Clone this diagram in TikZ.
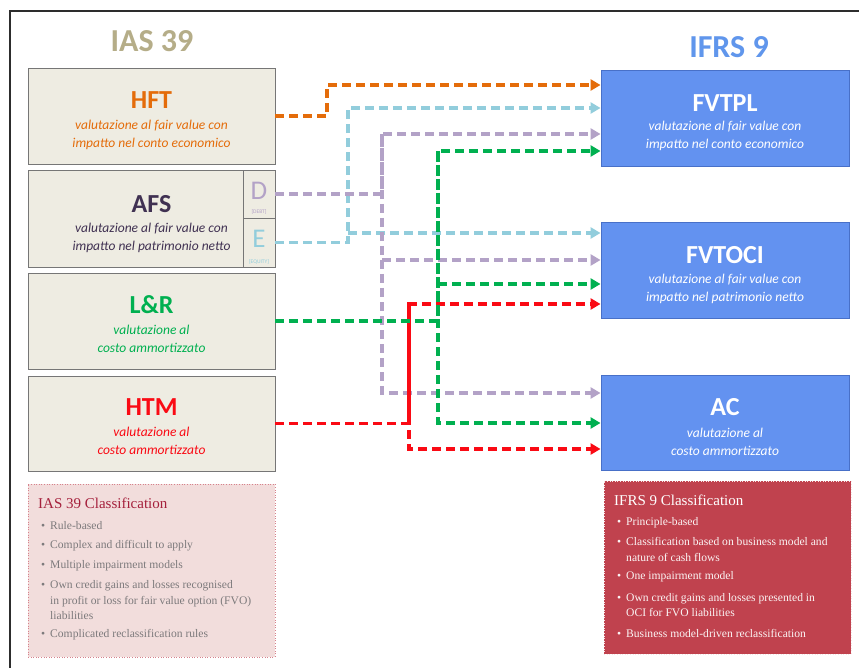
\documentclass[tikz,border=0pt]{standalone}
\usepackage{fontspec}
\setmainfont{Carlito}
\newfontfamily\clsfont{Liberation Serif}
\usetikzlibrary{arrows.meta}

\definecolor{iasgray}{RGB}{181,173,136}
\definecolor{ifrsblue}{RGB}{96,150,236}
\definecolor{boxblue}{RGB}{99,146,240}
\definecolor{boxblueline}{RGB}{72,112,200}
\definecolor{beige}{RGB}{238,236,226}
\definecolor{beigeline}{RGB}{118,118,118}
\definecolor{orangeC}{RGB}{228,108,10}
\definecolor{lblueC}{RGB}{146,205,220}
\definecolor{lilacC}{RGB}{179,162,199}
\definecolor{afsC}{RGB}{64,49,82}
\definecolor{greenC}{RGB}{0,176,80}
\definecolor{redC}{RGB}{250,10,20}
\definecolor{pinkfill}{RGB}{242,221,220}
\definecolor{pinkdots}{RGB}{214,130,140}
\definecolor{clstitle}{RGB}{165,32,60}
\definecolor{clstext}{RGB}{125,122,124}
\definecolor{redfill}{RGB}{192,66,78}
\definecolor{framecol}{RGB}{45,45,45}

\begin{document}
\begin{tikzpicture}[x=1pt,y=-1pt,
  leftbox/.style={draw=beigeline, fill=beige, line width=0.9pt, minimum width=247pt, inner sep=0pt},
  rightbox/.style={draw=boxblueline, fill=boxblue, line width=0.9pt, minimum width=248pt, inner sep=0pt},
  heading/.style={font=\fontsize{32}{34}\selectfont\bfseries, inner sep=0pt},
  boxname/.style={font=\fontsize{26}{28}\selectfont\bfseries, inner sep=0pt},
  boxnote/.style={font=\fontsize{13.5}{18}\selectfont\itshape, align=center, inner sep=0pt},
  cellletter/.style={inner sep=0pt, font=\fontsize{27}{28}\selectfont},
  celltag/.style={inner sep=0pt, font=\fontsize{5.5}{6}\selectfont},
  link/.style={line width=3.2pt, dash pattern=on 9pt off 5pt, -{Triangle[length=10pt,width=11pt]}},
  clsbox/.style={line width=1pt, dash pattern=on 1pt off 1.6pt, minimum width=247pt, minimum height=173pt, inner sep=0pt},
  clshead/.style={anchor=west, font=\clsfont\fontsize{15}{16}\selectfont, inner sep=0pt},
  bulletline/.style={anchor=west, font=\clsfont\fontsize{11.6}{15.5}\selectfont, align=left, inner sep=0pt}
]
\useasboundingbox (0,0) rectangle (859,668);
\fill[white] (0,0) rectangle (859,668);
\draw[framecol, line width=1.3pt] (10,668) -- (10,11) -- (859,11);

% column headings
\node[heading, text=iasgray] (iashead) at (152,41) {IAS 39};
\node[heading, text=ifrsblue] (ifrshead) at (729,47) {IFRS 9};

% IAS 39 categories
\node[leftbox, minimum height=96pt] (hft) at (151.5,116) {};
\node[boxname, text=orangeC] (hftname) at (151.5,100) {HFT};
\node[boxnote, text=orangeC] (hftnote) at (151.5,135) {valutazione al fair value con\\impatto nel conto economico};

\node[leftbox, minimum height=97pt] (afs) at (151.5,218.5) {};
\node[boxname, text=afsC] (afsname) at (151.5,204) {AFS};
\node[boxnote, text=afsC] (afsnote) at (151.5,238) {valutazione al fair value con\\impatto nel patrimonio netto};
\node[leftbox, minimum width=32pt, minimum height=48pt] (dcell) at (259,194) {};
\node[cellletter, text=lilacC] (dletter) at (259,191) {D};
\node[celltag, text=lilacC] (dtag) at (259,212) {[DEBT]};
\node[leftbox, minimum width=32pt, minimum height=49pt] (ecell) at (259,242.5) {};
\node[cellletter, text=lblueC] (eletter) at (259,239) {E};
\node[celltag, text=lblueC] (etag) at (259,262) {[EQUITY]};

\node[leftbox, minimum height=96pt] (lr) at (151.5,321) {};
\node[boxname, text=greenC] (lrname) at (151.5,305) {L\&R};
\node[boxnote, text=greenC] (lrnote) at (151.5,339) {valutazione al\\costo ammortizzato};

\node[leftbox, minimum height=95pt] (htm) at (151.5,423.5) {};
\node[boxname, text=redC] (htmname) at (151.5,407) {HTM};
\node[boxnote, text=redC] (htmnote) at (151.5,441) {valutazione al\\costo ammortizzato};

% IFRS 9 categories
\node[rightbox, minimum height=96pt] (fvtpl) at (725,118) {};
\node[boxname, text=white] (fvtplname) at (725,103) {FVTPL};
\node[boxnote, text=white] (fvtplnote) at (725,136) {valutazione al fair value con\\impatto nel conto economico};

\node[rightbox, minimum height=96pt] (fvtoci) at (725,270) {};
\node[boxname, text=white] (fvtociname) at (725,255) {FVTOCI};
\node[boxnote, text=white] (fvtocinote) at (725,289) {valutazione al fair value con\\impatto nel patrimonio netto};

\node[rightbox, minimum height=95pt] (ac) at (725,422.5) {};
\node[boxname, text=white] (acname) at (725,407) {AC};
\node[boxnote, text=white] (acnote) at (725,442) {valutazione al\\costo ammortizzato};

% bend points of the reclassification routes
\coordinate (orangeA) at (327,85);
\coordinate (blueA) at (348,108);
\coordinate (blueB) at (348,233);
\coordinate (lilacA) at (382,134);
\coordinate (lilacB) at (382,260);
\coordinate (lilacC) at (382,393);
\coordinate (greenA) at (438,151);
\coordinate (greenB) at (438,284);
\coordinate (greenCc) at (438,423);
\coordinate (redA) at (409,304);
\coordinate (redB) at (409,449);

% HFT
\draw[link, orangeC] (hft.east) -| (orangeA) -- (orangeA -| fvtpl.west);
% AFS equity
\draw[link, lblueC] (ecell.east) -| (blueA) -- (blueA -| fvtpl.west);
\draw[link, lblueC] (blueB) -- (blueB -| fvtoci.west);
% AFS debt
\draw[link, lilacC] (dcell.east) -| (lilacA) -- (lilacA -| fvtpl.west);
\draw[link, lilacC] (lilacA) |- (lilacC -| ac.west);
\draw[link, lilacC] (lilacB) -- (lilacB -| fvtoci.west);
% HTM
\draw[link, redC] (htm.east) -| (redA) -- (redA -| fvtoci.west);
\draw[link, redC] (redA) |- (redB -| ac.west);
% L&R
\draw[link, greenC] (lr.east) -| (greenA) -- (greenA -| fvtpl.west);
\draw[link, greenC] (greenA) |- (greenCc -| ac.west);
\draw[link, greenC] (greenB) -- (greenB -| fvtoci.west);

% classification summaries
\node[clsbox, draw=pinkdots, fill=pinkfill] (iasinfo) at (151.5,570.5) {};
\node[clshead, text=clstitle] (iasinfohead) at (38,503) {IAS 39 Classification};
\begin{scope}[every node/.append style={text=clstext}]
\node[bulletline] (ias1) at (50,526) {\llap{\textbullet\hspace{5pt}}Rule-based};
\node[bulletline] (ias2) at (50,546) {\llap{\textbullet\hspace{5pt}}Complex and difficult to apply};
\node[bulletline] (ias3) at (50,566) {\llap{\textbullet\hspace{5pt}}Multiple impairment models};
\node[bulletline] (ias4) at (50,600.5) {\llap{\textbullet\hspace{5pt}}Own credit gains and losses recognised\\in profit or loss for fair value option (FVO)\\liabilities};
\node[bulletline] (ias5) at (50,635) {\llap{\textbullet\hspace{5pt}}Complicated reclassification rules};
\end{scope}

\node[clsbox, draw=white!85!redfill, fill=redfill] (ifrsinfo) at (727.5,567.5) {};
\node[clshead, text=white] (ifrsinfohead) at (614,500) {IFRS 9 Classification};
\begin{scope}[every node/.append style={text=white!94!redfill}]
\node[bulletline] (ifrs1) at (626,523) {\llap{\textbullet\hspace{5pt}}Principle-based};
\node[bulletline] (ifrs2) at (626,549.5) {\llap{\textbullet\hspace{5pt}}Classification based on business model and\\nature of cash flows};
\node[bulletline] (ifrs3) at (626,577) {\llap{\textbullet\hspace{5pt}}One impairment model};
\node[bulletline] (ifrs4) at (626,605) {\llap{\textbullet\hspace{5pt}}Own credit gains and losses presented in\\OCI for FVO liabilities};
\node[bulletline] (ifrs5) at (626,633) {\llap{\textbullet\hspace{5pt}}Business model-driven reclassification};
\end{scope}
\end{tikzpicture}
\end{document}
